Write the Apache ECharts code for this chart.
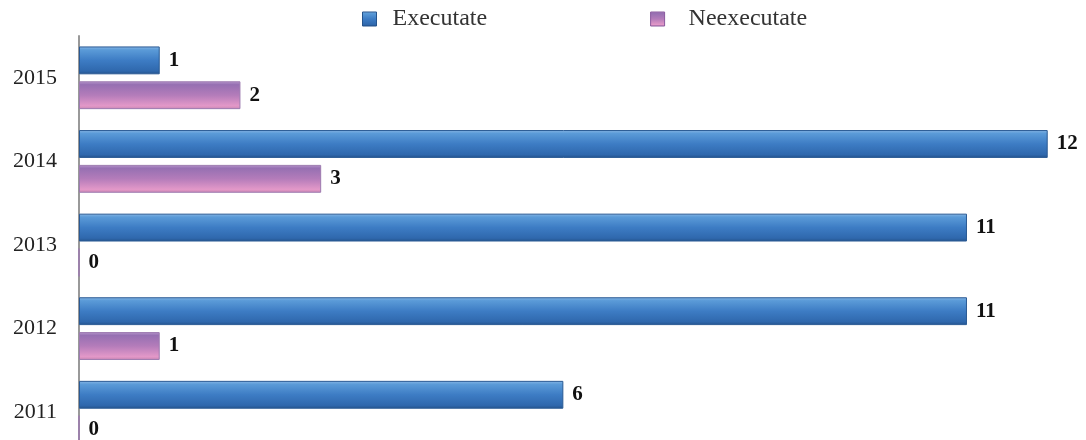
<!DOCTYPE html>
<html>
<head>
<meta charset="utf-8">
<script src="https://cdn.jsdelivr.net/npm/echarts@6/dist/echarts.min.js"></script>
<style>
  html, body { margin: 0; padding: 0; background: #fff; }
  #chart { width: 1086px; height: 440px; }
</style>
</head>
<body>
<div id="chart"></div>
<script>
// Years, bottom to top
const years = ['2011', '2012', '2013', '2014', '2015'];
// Executed and not executed counts per year
const executate = [6, 11, 11, 12, 1];
const neexecutate = [0, 1, 0, 3, 2];

const serif = '"Liberation Serif", "DejaVu Serif", serif';

function vGrad(stops) {
  return new echarts.graphic.LinearGradient(0, 0, 0, 1,
    stops.map(function (s) { return { offset: s[0], color: s[1] }; }));
}

const blueFill = vGrad([[0, '#8ab8e6'], [0.12, '#5b9bd8'], [0.5, '#3d7cc4'], [0.88, '#2f68ad'], [1, '#24538c']]);
const pinkFill = vGrad([[0, '#b896cc'], [0.12, '#9670b2'], [0.5, '#b47cba'], [0.88, '#e398c8'], [1, '#c886b2']]);

const chart = echarts.init(document.getElementById('chart'), null, { renderer: 'canvas' });

const labelStyle = {
  show: true,
  position: 'right',
  distance: 9,
  fontFamily: serif,
  fontWeight: 'bold',
  fontSize: 21,
  color: '#111'
};

chart.setOption({
  animation: false,
  legend: {
    top: 2,
    left: 357,
    itemWidth: 14,
    itemHeight: 14,
    itemGap: 163,
    textStyle: { fontFamily: serif, fontSize: 24, color: '#333', padding: [0, 0, 0, 11] },
    data: [
      { name: 'Executate', icon: 'rect', itemStyle: { color: blueFill, borderColor: '#24538c', borderWidth: 1 } },
      { name: 'Neexecutate', icon: 'rect', itemStyle: { color: pinkFill, borderColor: '#8a5a9e', borderWidth: 1 },
        textStyle: { padding: [0, 0, 0, 19] } }
    ]
  },
  grid: { left: 79, right: 6, top: 36, height: 418, outerBoundsMode: 'none' },
  xAxis: {
    type: 'value',
    min: 0,
    max: 12.4,
    show: false
  },
  yAxis: {
    type: 'category',
    data: years,
    axisLine: { show: true, lineStyle: { color: '#999', width: 2 } },
    axisTick: { show: false },
    axisLabel: { fontFamily: serif, fontSize: 22, color: '#222', margin: 22 },
    splitLine: { show: false }
  },
  series: [
    {
      name: 'Executate',
      type: 'bar',
      data: executate,
      barGap: '25%',
      barCategoryGap: '25%',
      itemStyle: { color: blueFill, borderColor: '#2a5a94', borderWidth: 1 },
      label: labelStyle
    },
    {
      name: 'Neexecutate',
      type: 'bar',
      data: neexecutate,
      itemStyle: { color: pinkFill, borderColor: '#9d7bb0', borderWidth: 1 },
      label: labelStyle
    }
  ]
});
</script>
</body>
</html>
